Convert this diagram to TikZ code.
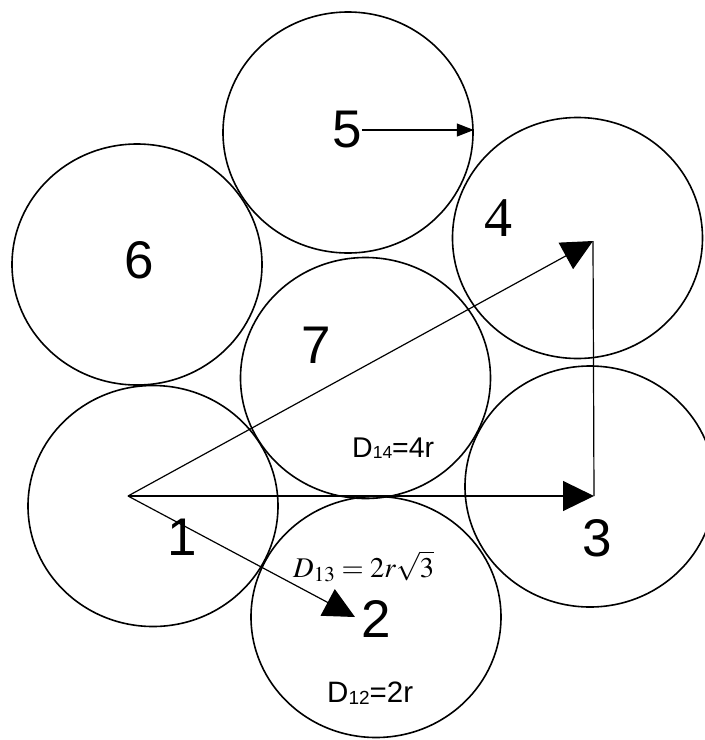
\documentclass[tikz,border=0pt]{standalone}
\usepackage{mathptmx}
\usepackage[no-math]{fontspec}
\setmainfont{Liberation Sans}
\newfontfamily\seriffont{Liberation Serif}
\usetikzlibrary{shapes.geometric,arrows.meta}
\begin{document}
\begin{tikzpicture}[x=1pt,y=-1pt,
  disc/.style={ellipse, draw, line width=1.6pt, minimum width=250pt, minimum height=241pt, inner sep=0pt},
  num/.style={font=\fontsize{53}{53}\selectfont, inner sep=0pt},
  conn/.style={line width=1.2pt},
  bigtip/.style={-{Triangle[length=31pt,width=30pt]}},
  smalltip/.style={-{Triangle[length=17pt,width=13pt]}},
  lbl/.style={inner sep=0pt, anchor=base west}]
\useasboundingbox (0,0) rectangle (705,740);
\clip (0,0) rectangle (705,740);
% circles
\node[disc] (c5) at (348,132.5) {};
\node[disc] (c6) at (137,264.5) {};
\node[disc] (c4) at (577.5,238) {};
\node[disc] (c7) at (365.5,378) {};
\node[disc] (c1) at (153,506) {};
\node[disc] (c3) at (590,486.5) {};
\node[disc] (c2) at (376,617) {};
% numbers
\node[num] (n5) at (347,130) {5};
\node[num] (n6) at (139,260) {6};
\node[num] (n7) at (316,345) {7};
\node[num, font=\seriffont\fontsize{56}{56}\selectfont] (n4) at (498,218) {4};
\node[num] (n1) at (182,537) {1};
\node[num] (n2) at (376,619) {2};
\node[num] (n3) at (597,538) {3};
% connectors
\coordinate (o) at (128,496);
\coordinate (t2) at (355,617);
\coordinate (t3) at (594,496);
\coordinate (t4) at (593,241);
\draw[conn, bigtip] (o) -- (t3);
\draw[conn, bigtip] (o) -- (t4);
\draw[conn, bigtip] (o) -- (t2);
\draw[conn] (t4) -- (t3);
\draw[conn, smalltip] (n5.east) -- (n5.east -| c5.east);
% labels
\node[lbl, font=\fontsize{28.5}{28.5}\selectfont] (d14) at (352,457) {D\raisebox{-1.5pt}{\fontsize{17.5}{17.5}\selectfont 14}=4r};
\node[lbl, font=\fontsize{29.5}{29.5}\selectfont] (d12) at (327,702) {D\raisebox{-2pt}{\fontsize{19}{19}\selectfont 12}=2r};
\node[lbl, font=\fontsize{28.5}{28.5}\selectfont] (d13) at (293,577) {$D_{13}=2r\sqrt{3}$};
\end{tikzpicture}
\end{document}
